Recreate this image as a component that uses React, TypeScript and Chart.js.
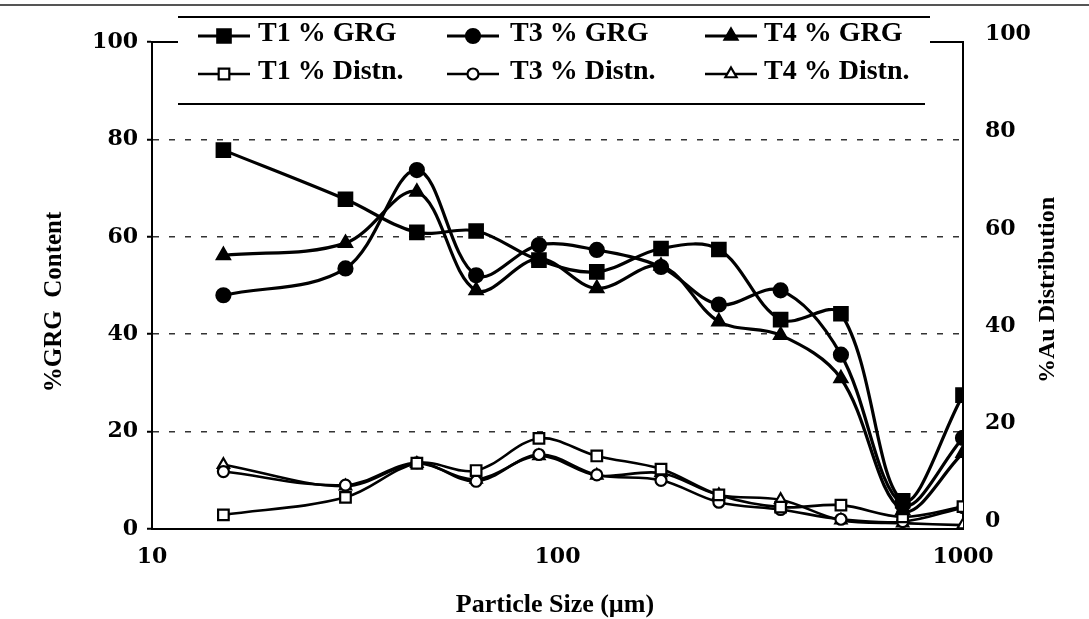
import React, { useEffect, useRef } from "react";
import { Chart, registerables } from "chart.js";

Chart.register(...registerables);

// Particle sizes (µm)
const sizes = [15, 30, 45, 63, 90, 125, 180, 250, 355, 500, 710, 1000];

// %GRG content (left axis)
const t1Grg = [77.8, 67.7, 60.9, 61.2, 55.2, 52.8, 57.6, 57.4, 43.0, 44.2, 5.8, 27.5];
const t3Grg = [48.0, 53.5, 73.7, 52.1, 58.3, 57.3, 53.8, 46.1, 49.0, 35.8, 5.0, 18.7];
const t4Grg = [56.2, 58.7, 69.2, 49.0, 55.5, 49.4, 54.0, 42.6, 39.8, 30.9, 3.8, 15.6];

// %Au distribution (right axis)
const t1Dist = [2.9, 6.5, 13.5, 12.0, 18.6, 15.0, 12.3, 7.0, 4.5, 4.9, 2.5, 4.6];
const t3Dist = [11.8, 9.0, 13.6, 9.8, 15.3, 11.1, 10.0, 5.5, 4.0, 2.0, 1.5, 4.4];
const t4Dist = [13.2, 8.8, 13.4, 10.2, 15.0, 11.0, 11.5, 7.0, 6.0, 1.8, 1.2, 0.8];

const seriesLabels = ["T1 % GRG", "T3 % GRG", "T4 % GRG", "T1 % Distn.", "T3 % Distn.", "T4 % Distn."];
const xTickValues = [10, 100, 1000];
const yMin = 0;
const yMax = 100;
const yStep = 20;

const leftTitle = "%GRG  Content";
const rightTitle = "%Au Distribution";
const xTitle = "Particle Size (µm)";

type Style = "rect" | "circle" | "triangle";

function drawMarker(ctx: CanvasRenderingContext2D, style: Style, x: number, y: number, r: number, filled: boolean) {
  ctx.beginPath();
  if (style === "rect") {
    const s = r * Math.SQRT1_2;
    ctx.rect(x - s, y - s, 2 * s, 2 * s);
  } else if (style === "circle") {
    ctx.arc(x, y, r, 0, Math.PI * 2);
  } else {
    let rad = 0;
    ctx.moveTo(x + Math.sin(rad) * r, y - Math.cos(rad) * r);
    rad += (2 * Math.PI) / 3;
    ctx.lineTo(x + Math.sin(rad) * r, y - Math.cos(rad) * r);
    rad += (2 * Math.PI) / 3;
    ctx.lineTo(x + Math.sin(rad) * r, y - Math.cos(rad) * r);
    ctx.closePath();
  }
  ctx.fillStyle = filled ? "#000" : "#fff";
  ctx.fill();
  ctx.lineWidth = 2.2;
  ctx.strokeStyle = "#000";
  ctx.stroke();
}

const styles: Style[] = ["rect", "circle", "triangle", "rect", "circle", "triangle"];
const radii = [9.5, 7, 7.5, 7.5, 5.5, 6.5];
const filledFlags = [true, true, true, false, false, false];
const lineWidths = [3.2, 3.2, 3.2, 2.6, 2.6, 2.6];

const decorPlugin = {
  id: "decor",
  afterDraw(chart: any) {
    const ctx: CanvasRenderingContext2D = chart.ctx;
    const area = chart.chartArea;
    ctx.save();
    // scan edge line at very top
    ctx.strokeStyle = "#555";
    ctx.lineWidth = 2;
    ctx.beginPath();
    ctx.moveTo(0, 5);
    ctx.lineTo(1089, 5);
    ctx.stroke();
    // top frame
    ctx.strokeStyle = "#000";
    ctx.lineWidth = 2;
    ctx.beginPath();
    ctx.moveTo(area.left, area.top);
    ctx.lineTo(area.right, area.top);
    ctx.stroke();
    // legend box
    ctx.fillStyle = "#fff";
    ctx.fillRect(178, 16, 752, 89);
    ctx.strokeStyle = "#000";
    ctx.lineWidth = 2;
    ctx.beginPath();
    ctx.moveTo(178, 17);
    ctx.lineTo(930, 17);
    ctx.moveTo(178, 104);
    ctx.lineTo(925, 104);
    ctx.stroke();

    const lineX = [198, 447, 705];
    const textX = [258, 510, 764];
    const rowY = [34, 72];
    ctx.font = "bold 28px 'Liberation Serif'";
    ctx.textBaseline = "middle";
    ctx.textAlign = "left";
    chart.data.datasets.forEach((ds: any, i: number) => {
      const col = i % 3;
      const row = Math.floor(i / 3);
      const y = rowY[row];
      ctx.strokeStyle = "#000";
      ctx.lineWidth = lineWidths[i];
      ctx.beginPath();
      ctx.moveTo(lineX[col], y + 2);
      ctx.lineTo(lineX[col] + 52, y + 2);
      ctx.stroke();
      drawMarker(ctx, styles[i], lineX[col] + 26, y + 2, radii[i], filledFlags[i]);
      ctx.fillStyle = "#000";
      ctx.fillText(ds.label, textX[col], y);
    });

    // axis titles
    ctx.fillStyle = "#000";
    ctx.font = "bold 25px 'Liberation Serif'";
    ctx.textAlign = "center";
    ctx.textBaseline = "middle";
    ctx.save();
    ctx.translate(55, 302);
    ctx.rotate(-Math.PI / 2);
    ctx.fillText(leftTitle, 0, 0);
    ctx.restore();
    ctx.save();
    ctx.font = "bold 24px 'Liberation Serif'";
    ctx.translate(1048, 290);
    ctx.rotate(-Math.PI / 2);
    ctx.fillText(rightTitle, 0, 0);
    ctx.restore();
    ctx.font = "bold 26px 'Liberation Serif'";
    ctx.fillText(xTitle, 555, 605);
    ctx.restore();
  },
};

const tickFont = { family: "'DejaVu Serif'", weight: "bold" as const, size: 22 };

export default function App() {
  const ref = useRef<HTMLCanvasElement | null>(null);
  useEffect(() => {
    if (!ref.current) return;
    const seriesData = [t1Grg, t3Grg, t4Grg, t1Dist, t3Dist, t4Dist];
    const datasets = seriesData.map((vals, i) => ({
      label: seriesLabels[i],
      data: sizes.map((s, j) => ({ x: s, y: vals[j] })),
      yAxisID: i < 3 ? "y" : "y2",
      borderColor: "#000",
      borderWidth: lineWidths[i],
      backgroundColor: filledFlags[i] ? "#000" : "#fff",
      pointStyle: styles[i],
      pointRadius: radii[i],
      pointHoverRadius: radii[i],
      pointBorderWidth: 2.2,
      pointBorderColor: "#000",
      pointBackgroundColor: filledFlags[i] ? "#000" : "#fff",
      tension: 0.35,
      fill: false,
    }));
    const chart = new Chart(ref.current, {
      type: "line",
      data: { datasets },
      plugins: [decorPlugin],
      options: {
        responsive: false,
        animation: false,
        devicePixelRatio: 1,
        layout: { padding: { top: 42, left: 0, right: 0, bottom: 0 } },
        plugins: { legend: { display: false }, tooltip: { enabled: false }, title: { display: false } },
        scales: {
          x: {
            type: "logarithmic",
            position: "bottom",
            min: 10,
            max: 1000,
            afterFit: (s: any) => {
              s.height = 90;
            },
            afterBuildTicks: (s: any) => {
              s.ticks = xTickValues.map((v) => ({ value: v }));
            },
            ticks: {
              autoSkip: false,
              maxRotation: 0,
              padding: 15,
              color: "#000",
              font: tickFont,
              callback: (v: any) => String(v),
            },
            grid: { display: false, drawTicks: false },
            border: { display: true, color: "#000", width: 2 },
          },
          y: {
            position: "left",
            min: yMin,
            max: yMax,
            afterFit: (s: any) => {
              s.width = 152;
            },
            ticks: { stepSize: yStep, padding: 9, color: "#000", font: tickFont },
            grid: {
              color: (c: any) => (c.tick && (c.tick.value === yMin || c.tick.value === yMax) ? "rgba(0,0,0,0)" : "#333"),
              lineWidth: 1.5,
              drawTicks: true,
              tickLength: 5,
              tickColor: "#000",
              tickWidth: 2,
            },
            border: { display: true, color: "#000", width: 2, dash: [6, 10] },
          },
          y2: {
            position: "right",
            min: yMin,
            max: yMax,
            afterFit: (s: any) => {
              s.width = 126;
            },
            ticks: { stepSize: yStep, padding: 22, labelOffset: -8, color: "#000", font: tickFont },
            grid: { drawOnChartArea: false, drawTicks: false },
            border: { display: true, color: "#000", width: 2 },
          },
        },
      } as any,
    });
    return () => chart.destroy();
  }, []);
  return (
    <div style={{ position: "fixed", left: 0, top: 0, width: 1089, height: 619, background: "#fff" }}>
      <canvas ref={ref} width={1089} height={619} style={{ display: "block" }} />
    </div>
  );
}
